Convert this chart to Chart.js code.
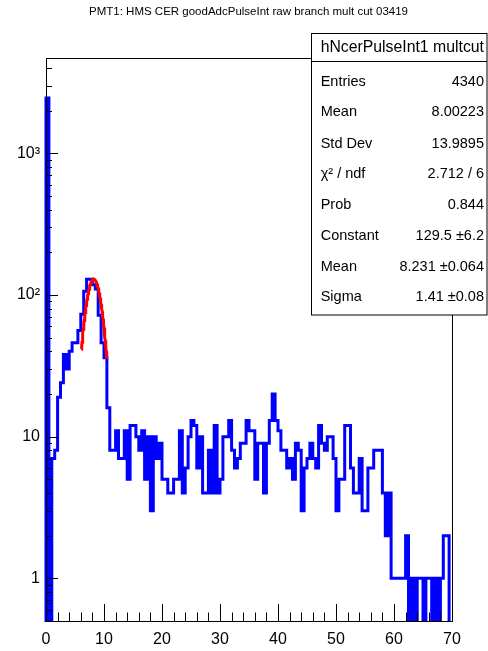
<!DOCTYPE html>
<html>
<head>
<meta charset="utf-8">
<script src="https://cdn.jsdelivr.net/npm/chart.js@4.4.1/dist/chart.umd.min.js"></script>
<style>
  html, body { margin: 0; padding: 0; background: #ffffff; }
  #wrap { position: relative; width: 488px; height: 651px; }
</style>
</head>
<body>
<div id="wrap"><canvas id="c" width="488" height="651"></canvas></div>
<script>
// Histogram binning (uniform bins starting at binLow)
const binLow = 0;
const binWidth = 0.5;

// Bin contents of hNcerPulseInt1 (multiplicity cut), one entry per bin
const counts = [
  2450, 2450, 0, 7, 8, 19, 24, 38, 30, 40,
  46, 46, 56, 73, 106, 129, 129, 118, 110, 72,
  46, 36, 16, 8, 8, 11, 7, 7, 11, 5,
  12, 12, 10, 8, 11, 5, 10, 3, 10, 7,
  9, 5, 5, 4, 4, 5, 5, 11, 4, 6,
  10, 13, 12, 6, 10, 4, 4, 8, 4, 12,
  4, 5, 10, 10, 13, 8, 6, 7, 9, 9,
  13, 11, 11, 5, 9, 9, 4, 9, 13, 20,
  13, 11, 8, 8, 6, 7, 5, 9, 8, 3,
  6, 7, 9, 7, 6, 12, 9, 8, 10, 10,
  7, 3, 5, 5, 12, 12, 6, 4, 4, 7,
  3, 3, 6, 6, 8, 8, 8, 4, 2, 4,
  1, 1, 1, 1, 1, 2, 0, 1, 0, 1,
  1, 0, 1, 1, 0, 1, 0, 1, 2, 2
];

// Gaussian fit result
const fitConstant = 129.5;
const fitMean = 8.231;
const fitSigma = 1.41;
const fitRange = [6.1, 10.5];

// Axis settings
const xMin = 0, xMax = 70;
const yMin = 0.5, yMax = 4700;
const xTickValues = [0, 10, 20, 30, 40, 50, 60, 70];
const yTickValues = [1, 10, 100, 1000];
const yTickLabels = ['1', '10', '10\u00B2', '10\u00B3'];

// Text
const titleText = 'PMT1: HMS CER goodAdcPulseInt raw branch mult cut 03419';
const statsTitle = 'hNcerPulseInt1 multcut';
const statsLabels = ['Entries', 'Mean', 'Std Dev', '\u03C7\u00B2 / ndf', 'Prob', 'Constant', 'Mean', 'Sigma'];
const statsValues = ['4340', '8.00223', '13.9895', '2.712 / 6', '0.844', '129.5 \u00B16.2', '8.231 \u00B10.064', '1.41 \u00B10.08'];

const FONT = "'Liberation Sans', Arial, Helvetica, sans-serif";

// A log axis cannot show 0: empty bins are drawn at a level below the
// axis minimum, so their edges run down past the frame and get clipped.
const floorLevel = yMin / 10;
const shown = (c) => (c > 0 ? c : floorLevel);

// Step outline of the histogram: start and end on the baseline
const outline = [{ x: binLow, y: floorLevel }];
counts.forEach((c, i) => outline.push({ x: binLow + i * binWidth, y: shown(c) }));
outline.push({ x: binLow + counts.length * binWidth, y: floorLevel });

// Fit function sampled across its range
const fitPoints = [];
const nFit = 80;
for (let k = 0; k <= nFit; k++) {
  const x = fitRange[0] + (fitRange[1] - fitRange[0]) * k / nFit;
  const d = (x - fitMean) / fitSigma;
  fitPoints.push({ x: x, y: fitConstant * Math.exp(-0.5 * d * d) });
}

// Frame, inward ticks, title and statistics box
const rootStyle = {
  id: 'rootStyle',
  afterDatasetsDraw(chart) {
    const { ctx, chartArea: a, scales: { x, y } } = chart;
    ctx.save();
    ctx.strokeStyle = '#000000';
    ctx.lineWidth = 1;
    ctx.beginPath();
    // x ticks: major every 10, minor every 2
    for (let v = xMin; v <= xMax + 1e-9; v += 2) {
      const px = Math.round(x.getPixelForValue(v)) + 0.5;
      const len = (v % 10 === 0) ? 17 : 8.5;
      ctx.moveTo(px, a.bottom);
      ctx.lineTo(px, a.bottom - len);
    }
    // y ticks: decades and 2..9 subdivisions
    for (let dec = 0.1; dec <= 1000; dec *= 10) {
      for (let m = 1; m <= 9; m++) {
        const v = dec * m;
        if (v < yMin - 1e-9 || v > yMax) continue;
        const py = Math.round(y.getPixelForValue(v)) + 0.5;
        const len = (m === 1) ? 12 : 6;
        ctx.moveTo(a.left, py);
        ctx.lineTo(a.left + len, py);
      }
    }
    ctx.stroke();
    ctx.strokeRect(Math.round(a.left) + 0.5, Math.round(a.top) + 0.5,
                   Math.round(a.right - a.left), Math.round(a.bottom - a.top));
    ctx.restore();
  },
  afterDraw(chart) {
    const ctx = chart.ctx;
    ctx.save();
    // title
    ctx.fillStyle = '#000000';
    ctx.font = '11.5px ' + FONT;
    ctx.textAlign = 'center';
    ctx.textBaseline = 'middle';
    ctx.fillText(titleText, 248.5, 11.5);
    // statistics box
    const bx = 311.5, by = 33.5, bw = 175.5, bh = 281.5;
    ctx.fillStyle = '#ffffff';
    ctx.fillRect(bx, by, bw, bh);
    ctx.strokeStyle = '#000000';
    ctx.lineWidth = 1;
    ctx.strokeRect(bx, by, bw, bh);
    ctx.beginPath();
    ctx.moveTo(bx, 61.5);
    ctx.lineTo(bx + bw, 61.5);
    ctx.stroke();
    ctx.fillStyle = '#000000';
    ctx.font = '15.8px ' + FONT;
    ctx.textAlign = 'center';
    ctx.fillText(statsTitle, 402.3, 48);
    const rowY = [81.7, 112.3, 143.5, 174.3, 205, 235.7, 266.7, 297];
    ctx.font = '14.5px ' + FONT;
    statsLabels.forEach((t, i) => {
      ctx.textAlign = 'left';
      ctx.fillText(t, 320.7, rowY[i]);
      ctx.textAlign = 'right';
      ctx.fillText(statsValues[i], 484, rowY[i]);
    });
    ctx.restore();
  }
};

new Chart(document.getElementById('c'), {
  type: 'scatter',
  data: {
    datasets: [
      {
        label: 'fit',
        data: fitPoints,
        showLine: true,
        borderColor: '#ff0000',
        borderWidth: 3,
        pointRadius: 0,
        tension: 0,
        fill: false
      },
      {
        label: 'hNcerPulseInt1 multcut',
        data: outline,
        showLine: true,
        stepped: 'after',
        borderColor: '#0000ff',
        borderWidth: 3,
        borderJoinStyle: 'miter',
        pointRadius: 0,
        fill: false,
        clip: { left: 2, right: 2, top: 0, bottom: 1 }
      }
    ]
  },
  options: {
    responsive: false,
    animation: false,
    devicePixelRatio: 1,
    layout: { padding: { left: 0, right: 36, top: 58, bottom: 0 } },
    plugins: {
      legend: { display: false },
      title: { display: false },
      tooltip: { enabled: false }
    },
    scales: {
      x: {
        type: 'linear',
        min: xMin,
        max: xMax,
        grid: { display: false, drawTicks: false },
        border: { display: false },
        afterBuildTicks: (s) => { s.ticks = xTickValues.map(v => ({ value: v })); },
        afterFit: (s) => { s.height = 30; },
        ticks: {
          color: '#000000',
          font: { family: FONT, size: 16 },
          padding: 9,
          maxRotation: 0,
          callback: (v) => String(v)
        }
      },
      y: {
        type: 'logarithmic',
        min: yMin,
        max: yMax,
        grid: { display: false, drawTicks: false },
        border: { display: false },
        afterBuildTicks: (s) => { s.ticks = yTickValues.map(v => ({ value: v })); },
        afterFit: (s) => { s.width = 46; },
        ticks: {
          color: '#000000',
          font: { family: FONT, size: 16 },
          padding: 6,
          callback: (v) => yTickLabels[yTickValues.indexOf(v)]
        }
      }
    }
  },
  plugins: [rootStyle]
});
</script>
</body>
</html>
